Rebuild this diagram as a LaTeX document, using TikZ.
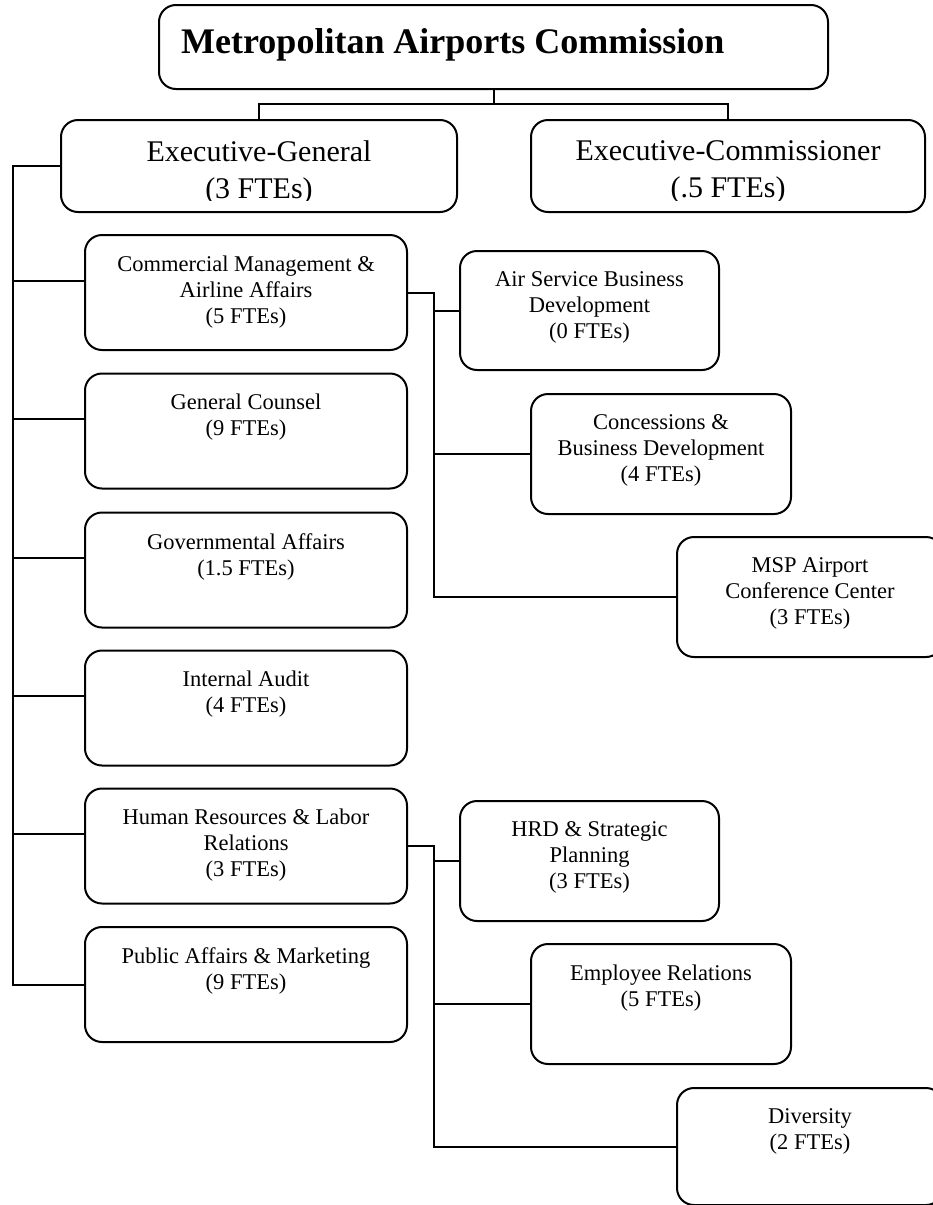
\documentclass[tikz,border=0pt]{standalone}
\usepackage{fontspec}
\setmainfont{Liberation Serif}
\begin{document}
\begin{tikzpicture}[x=1pt,y=-1pt,
  box/.style={draw, line width=2pt, rounded corners=17pt, inner sep=0pt},
  link/.style={line width=2pt},
  lbl/.style={anchor=north, align=center, inner sep=0pt,
              font=\fontsize{22.5}{26}\selectfont},
  exlbl/.style={anchor=north, align=center, inner sep=0pt,
                font=\fontsize{30}{36.5}\selectfont},
  ttl/.style={anchor=north west, inner sep=0pt,
              font=\fontsize{36}{40}\selectfont\bfseries}]
\useasboundingbox (0,0) rectangle (933,1205);

% top level
\node[box, minimum width=669pt, minimum height=84pt] (top) at (493.5,47) {};
\node[ttl] (toptxt) at ([xshift=23pt,yshift=-24pt]top.north west)
  {Metropolitan Airports Commission};

% executives (second text line is cut off by the box bottom)
\node[box, minimum width=396pt, minimum height=92pt] (eg) at (259,166) {};
\node[box, minimum width=394pt, minimum height=92pt] (ec) at (728,166) {};
\begin{scope}
  \clip (eg.north west) rectangle ([yshift=13pt]eg.south east)
        (ec.north west) rectangle ([yshift=13pt]ec.south east);
  \node[exlbl] (egtxt) at ([yshift=-21.5pt]eg.north) {Executive-General\\(3 FTEs)};
  \node[exlbl] (ectxt) at ([yshift=-21.5pt]ec.north) {Executive-Commissioner\\(.5 FTEs)};
\end{scope}

% departments under Executive-General
\node[box, minimum width=322pt, minimum height=115pt] (cm) at (246,292.5) {};
\node[box, minimum width=322pt, minimum height=115pt] (gc) at (246,431) {};
\node[box, minimum width=322pt, minimum height=115pt] (ga) at (246,570) {};
\node[box, minimum width=322pt, minimum height=115pt] (ia) at (246,708) {};
\node[box, minimum width=322pt, minimum height=115pt] (hr) at (246,846) {};
\node[box, minimum width=322pt, minimum height=115pt] (pa) at (246,984.5) {};

\node[lbl] (cmtxt) at ([yshift=-21.5pt]cm.north) {Commercial Management \&\\Airline Affairs\\(5 FTEs)};
\node[lbl] (gctxt) at ([yshift=-21.5pt]gc.north) {General Counsel\\(9 FTEs)};
\node[lbl] (gatxt) at ([yshift=-21.5pt]ga.north) {Governmental Affairs\\(1.5 FTEs)};
\node[lbl] (iatxt) at ([yshift=-21.5pt]ia.north) {Internal Audit\\(4 FTEs)};
\node[lbl] (hrtxt) at ([yshift=-21.5pt]hr.north) {Human Resources \& Labor\\Relations\\(3 FTEs)};
\node[lbl] (patxt) at ([yshift=-21.5pt]pa.north) {Public Affairs \& Marketing\\(9 FTEs)};

% commercial management units
\node[box, minimum width=259pt, minimum height=119pt] (as) at (589.5,310.5) {};
\node[box, minimum width=260pt, minimum height=120pt] (co) at (661,454) {};
\node[box, minimum width=266pt, minimum height=120pt] (msp) at (810,597) {};
\node[lbl] (astxt) at ([yshift=-21.5pt]as.north) {Air Service Business\\Development\\(0 FTEs)};
\node[lbl] (cotxt) at ([yshift=-21.5pt]co.north) {Concessions \&\\Business Development\\(4 FTEs)};
\node[lbl] (msptxt) at ([yshift=-21.5pt]msp.north) {MSP Airport\\Conference Center\\(3 FTEs)};

% human resources units
\node[box, minimum width=259pt, minimum height=120pt] (hrd) at (589.5,861) {};
\node[box, minimum width=260pt, minimum height=120pt] (er) at (661,1004) {};
\node[box, minimum width=266pt, minimum height=117pt] (dv) at (810,1146.5) {};
\node[lbl] (hrdtxt) at ([yshift=-21.5pt]hrd.north) {HRD \& Strategic\\Planning\\(3 FTEs)};
\node[lbl] (ertxt) at ([yshift=-21.5pt]er.north) {Employee Relations\\(5 FTEs)};
\node[lbl] (dvtxt) at ([yshift=-21.5pt]dv.north) {Diversity\\(2 FTEs)};

% connectors
\coordinate (jt) at (493.5,104);
\coordinate (sx) at (13,0);
\coordinate (vx) at (434,0);

\draw[link] (top.south) -- (jt);
\draw[link] (eg.north) |- (jt) -| (ec.north);

\draw[link] (eg.west) -- (eg.west -| sx) |- (pa.west);
\foreach \d in {cm,gc,ga,ia,hr}
  \draw[link] ([yshift=12pt]\d.west) -- ([yshift=12pt]\d.west -| sx);

\draw[link] (cm.east) -| (vx |- msp.west) -- (msp.west);
\draw[link] (as.west) -- (as.west -| vx);
\draw[link] (co.west) -- (co.west -| vx);

\draw[link] (hr.east) -| (vx |- dv.west) -- (dv.west);
\draw[link] (hrd.west) -- (hrd.west -| vx);
\draw[link] (er.west) -- (er.west -| vx);
\end{tikzpicture}
\end{document}
